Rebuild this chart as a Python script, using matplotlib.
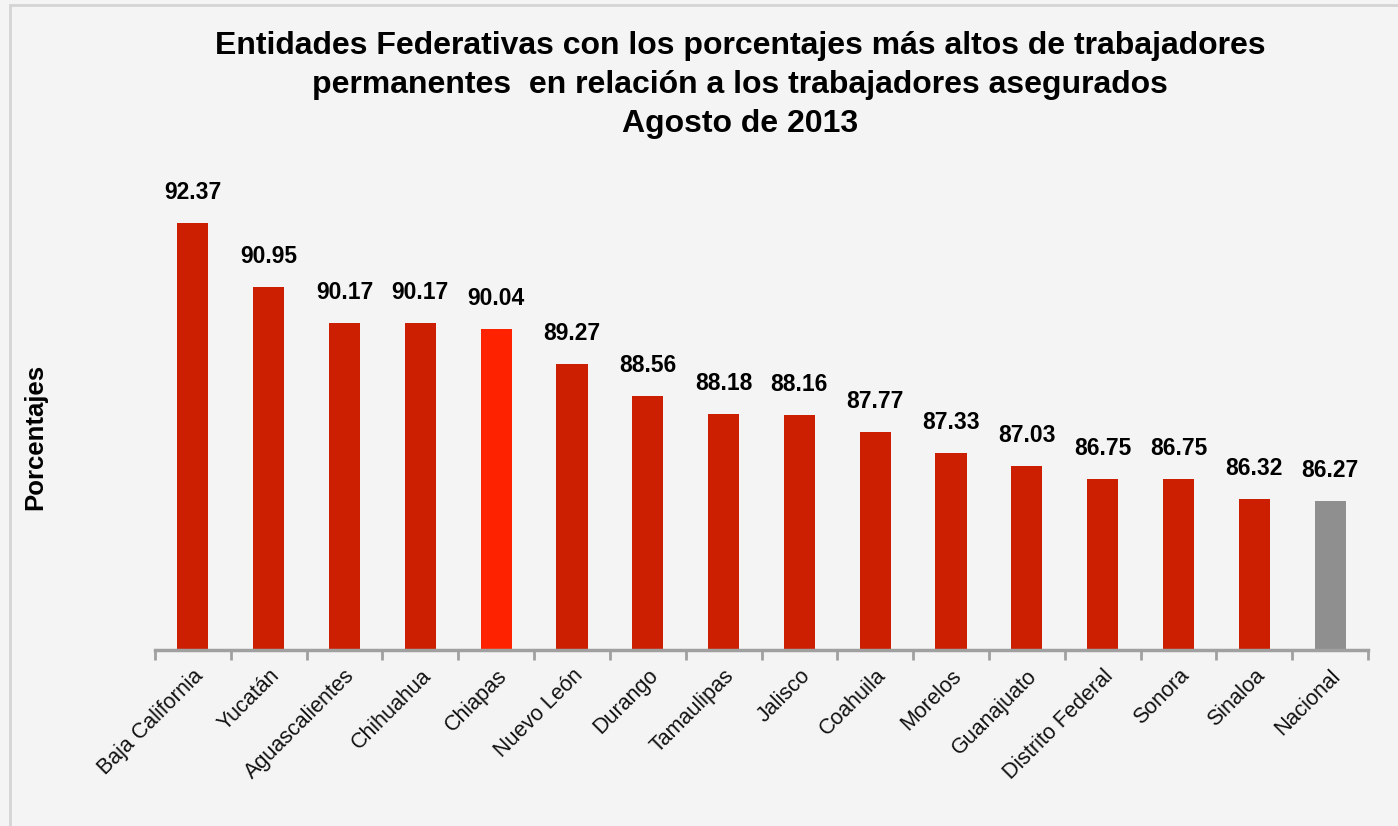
import matplotlib
matplotlib.use("Agg")
import matplotlib.pyplot as plt
from matplotlib.lines import Line2D

plt.rcParams['font.family'] = ['Liberation Sans', 'DejaVu Sans']

categories = ["Baja California", "Yucatán", "Aguascalientes", "Chihuahua", "Chiapas",
              "Nuevo León", "Durango", "Tamaulipas", "Jalisco", "Coahuila", "Morelos",
              "Guanajuato", "Distrito Federal", "Sonora", "Sinaloa", "Nacional"]
values = [92.37, 90.95, 90.17, 90.17, 90.04, 89.27, 88.56, 88.18, 88.16, 87.77,
          87.33, 87.03, 86.75, 86.75, 86.32, 86.27]
labels = ["92.37", "90.95", "90.17", "90.17", "90.04", "89.27", "88.56", "88.18",
          "88.16", "87.77", "87.33", "87.03", "86.75", "86.75", "86.32", "86.27"]

dark_red = "#cc1e00"
bright_red = "#ff2200"
gray = "#8f8f8f"
colors = [dark_red] * len(categories)
colors[4] = bright_red
colors[-1] = gray

bg = "#f4f4f4"
fig = plt.figure(figsize=(13.98, 8.26), dpi=100, facecolor=bg)
ax = fig.add_axes([155/1398, 1-650/826, (1368-155)/1398, (650-148.4)/826])
ax.set_facecolor(bg)

x = list(range(len(categories)))
ax.bar(x, values, width=0.41, color=colors, zorder=2)
ax.set_ylim(83, 94)
ax.set_xlim(-0.5, len(categories) - 0.5)

for xi, v, lab in zip(x, values, labels):
    ax.annotate(lab, (xi, v), xytext=(0, 19), textcoords="offset pixels",
                ha="center", va="bottom", fontsize=16.5, fontweight="bold", color="#000000")

for s in ["top", "right", "left"]:
    ax.spines[s].set_visible(False)
ax.spines["bottom"].set_color("#a0a0a0")
ax.spines["bottom"].set_linewidth(2.5)
ax.set_yticks([])

ax.set_xticks(x)
ax.set_xticklabels(categories, rotation=45, ha="right", rotation_mode="anchor",
                   fontsize=15.5, color="#111111")
ax.tick_params(axis="x", length=0, pad=11)
ax.set_xticks([i - 0.5 for i in range(len(categories) + 1)], minor=True)
ax.tick_params(axis="x", which="minor", length=7, width=2, color="#a0a0a0")

fig.text(35/1398, 1-437/826, "Porcentajes", rotation=90, ha="center", va="center",
         fontsize=18.5, fontweight="bold", color="#000000")

fig.text(740/1398, 1-85/826,
         "Entidades Federativas con los porcentajes más altos de trabajadores\n"
         "permanentes  en relación a los trabajadores asegurados\n"
         "Agosto de 2013",
         ha="center", va="center", fontsize=23, fontweight="bold", color="#000000",
         linespacing=1.4)

# outer border (top and left visible)
fig.add_artist(Line2D([10/1398, 10/1398], [0, 1-5/826], transform=fig.transFigure,
                      color="#d4d4d4", linewidth=2))
fig.add_artist(Line2D([10/1398, 1], [1-5/826, 1-5/826], transform=fig.transFigure,
                      color="#d4d4d4", linewidth=2))

fig.savefig("out.png", dpi=100, facecolor=bg)
